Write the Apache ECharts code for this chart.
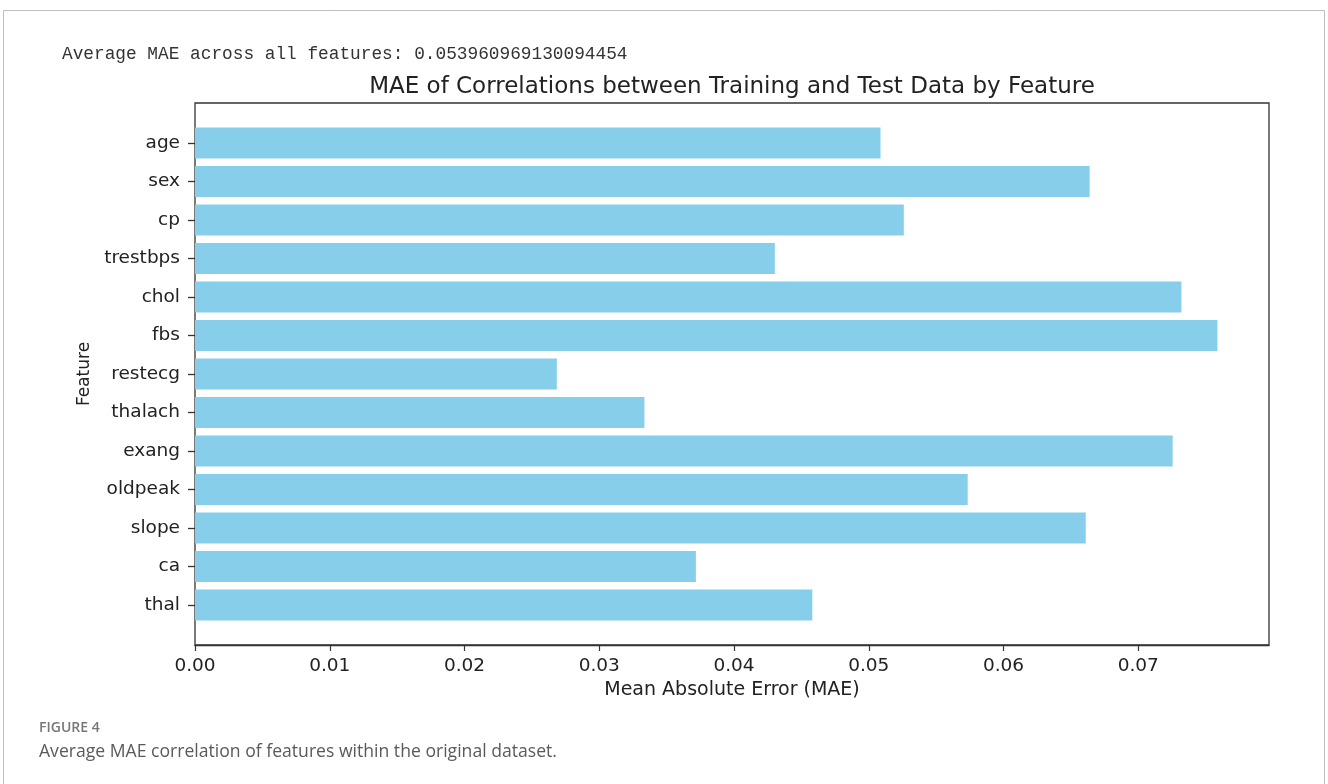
<!DOCTYPE html>
<html>
<head>
<meta charset="utf-8">
<script src="https://cdn.jsdelivr.net/npm/echarts@6/dist/echarts.min.js"></script>
<style>
  html, body { margin: 0; padding: 0; background: #ffffff; }
  #chart { width: 1328px; height: 784px; }
</style>
</head>
<body>
<div id="chart"></div>
<script>
const features = ['age', 'sex', 'cp', 'trestbps', 'chol', 'fbs', 'restecg', 'thalach', 'exang', 'oldpeak', 'slope', 'ca', 'thal'];
const maeValues = [0.05087, 0.06639, 0.05260, 0.04303, 0.07320, 0.07587, 0.02685, 0.03335, 0.07255, 0.05734, 0.06610, 0.03717, 0.04581];
const xTicks = [0.00, 0.01, 0.02, 0.03, 0.04, 0.05, 0.06, 0.07];
const xMax = 0.0797;
const headerText = 'Average MAE across all features: 0.053960969130094454';
const titleText = 'MAE of Correlations between Training and Test Data by Feature';
const xName = 'Mean Absolute Error (MAE)';
const yName = 'Feature';
const figLabel = 'FIGURE 4';
const captionText = 'Average MAE correlation of features within the original dataset.';

const chart = echarts.init(document.getElementById('chart'), null, { renderer: 'canvas' });
const font = 'DejaVu Sans';
const ink = '#222222';

chart.setOption({
  animation: false,
  backgroundColor: '#ffffff',
  graphic: [{
    type: 'rect',
    shape: { x: 3.5, y: 10.5, width: 1321, height: 800 },
    style: { fill: 'none', stroke: '#bdbdbd', lineWidth: 1 },
    silent: true, z: -10
  }],
  title: [
    {
      text: headerText, left: 62, top: 45, padding: 0,
      textStyle: { fontFamily: 'Liberation Mono', fontSize: 17.8, fontWeight: 'normal', color: '#333333' }
    },
    {
      text: titleText, left: 732, top: 76, padding: 0, textAlign: 'center',
      textStyle: { fontFamily: font, fontSize: 23, fontWeight: 'normal', color: ink }
    },
    {
      text: figLabel, left: 39, top: 721, padding: 0,
      textStyle: { fontFamily: 'Open Sans', fontSize: 14, fontWeight: 600, color: '#777777' }
    },
    {
      text: captionText, left: 39, top: 743, padding: 0,
      textStyle: { fontFamily: 'Open Sans', fontSize: 17.6, fontWeight: 'normal', color: '#5a5a5a' }
    }
  ],
  grid: [
    { left: 195, right: 59, top: 103, bottom: 139, show: true, borderColor: '#333333', borderWidth: 1.3, backgroundColor: 'transparent' },
    { left: 195, right: 59, top: 123.75, bottom: 159.75 }
  ],
  xAxis: [
    {
      gridIndex: 0, type: 'value', min: 0, max: xMax, interval: 0.01,
      name: xName, nameLocation: 'middle', nameGap: 36,
      nameTextStyle: { fontFamily: font, fontSize: 19, color: ink },
      axisLine: { show: true, lineStyle: { color: '#333333', width: 1.3 } },
      axisTick: { show: true, length: 6, lineStyle: { color: '#333333', width: 1.2 } },
      axisLabel: {
        fontFamily: font, fontSize: 18.5, color: ink, margin: 12,
        showMaxLabel: false,
        formatter: v => { const t = xTicks.find(x => Math.abs(x - v) < 1e-9); return t === undefined ? '' : t.toFixed(2); }
      },
      splitLine: { show: false }
    },
    {
      gridIndex: 1, type: 'value', min: 0, max: xMax, interval: 0.01, show: false
    }
  ],
  yAxis: [
    {
      gridIndex: 0, type: 'value', min: 0, max: 1,
      name: yName, nameLocation: 'middle', nameRotate: 90, nameGap: 102,
      nameTextStyle: { fontFamily: font, fontSize: 17, color: ink },
      axisLine: { show: false }, axisTick: { show: false }, axisLabel: { show: false }, splitLine: { show: false }
    },
    {
      gridIndex: 1, type: 'category', data: features, inverse: true,
      axisLine: { show: false },
      axisTick: { show: true, alignWithLabel: true, length: 7, lineStyle: { color: '#333333', width: 1.3 } },
      axisLabel: { fontFamily: font, fontSize: 18.5, color: ink, margin: 15 },
      splitLine: { show: false }
    }
  ],
  series: [{
    type: 'bar',
    xAxisIndex: 1, yAxisIndex: 1,
    data: maeValues,
    barCategoryGap: '20%',
    itemStyle: { color: '#87CEEB' },
    silent: true
  }]
});
</script>
</body>
</html>
